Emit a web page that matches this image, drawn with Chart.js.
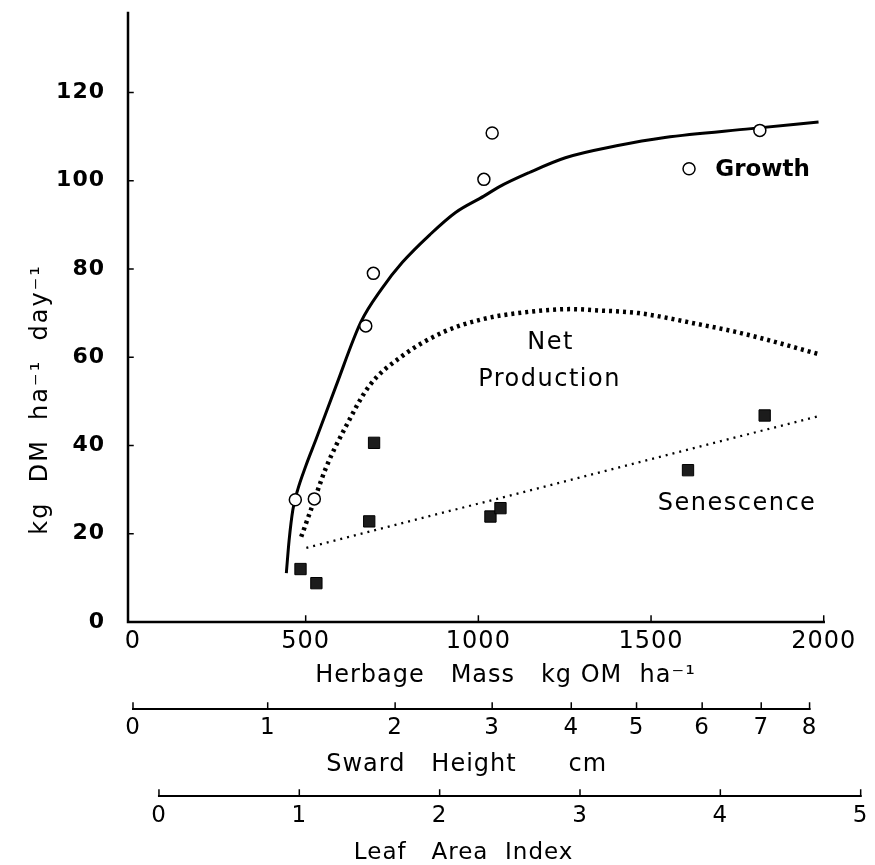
<!DOCTYPE html>
<html>
<head>
<meta charset="utf-8">
<script src="https://cdn.jsdelivr.net/npm/chart.js@4.4.1/dist/chart.umd.min.js"></script>
<style>
  html, body { margin: 0; padding: 0; background: #fff; }
  #wrap { width: 875px; height: 865px; }
</style>
</head>
<body>
<div id="wrap"><canvas id="c" width="875" height="865"></canvas></div>
<script>
// Fitted growth curve: herbage mass (kg OM/ha) vs rate (kg DM/ha/day)
const growthCurveMass = [444, 452, 463, 477, 500, 530, 588, 660, 720, 780, 860, 934, 1016, 1060, 1146, 1252, 1400, 1540, 1790, 1985];
const growthCurveRate = [11.1, 18.5, 25.5, 30.0, 35.3, 41.4, 53.5, 68.0, 75.5, 81.5, 87.8, 92.8, 96.5, 98.6, 101.8, 105.2, 107.9, 109.8, 111.8, 113.3];

// Net production curve
const netCurveMass = [487, 520, 559, 617, 684, 780, 896, 1011, 1136, 1271, 1348, 1463, 1636, 1742, 1829, 1985];
const netCurveRate = [19.3, 26.5, 35.0, 44.4, 53.5, 60.3, 65.6, 68.6, 70.2, 70.9, 70.6, 70.0, 67.5, 65.8, 64.1, 60.7];

// Senescence regression line
const senescenceLineMass = [502, 1992];
const senescenceLineRate = [16.8, 46.8];

// Observations
const growthObsMass = [470, 525, 674, 696, 1016, 1040, 1610, 1815];
const growthObsRate = [27.7, 27.9, 67.1, 79.0, 100.3, 110.8, 102.7, 111.4];
const senescenceObsMass = [485, 531, 684, 698, 1035, 1064, 1607, 1829];
const senescenceObsRate = [12.0, 8.8, 22.8, 40.6, 23.9, 25.8, 34.4, 46.8];

// Axis ticks
const massTicks = [0, 500, 1000, 1500, 2000];
const rateTicks = [0, 20, 40, 60, 80, 100, 120];
const swardHeightTicks = [0, 1, 2, 3, 4, 5, 6, 7, 8];
const swardHeightMass = [0, 390, 759, 1040, 1269, 1458, 1648, 1819, 1959];
const laiTicks = [0, 1, 2, 3, 4, 5];

const pts = (xs, ys) => xs.map((x, i) => ({ x: x, y: ys[i] }));

Chart.defaults.font.family = "'DejaVu Sans', sans-serif";
Chart.defaults.color = '#000';

// Curve labels, placed in data coordinates
const curveLabels = [
  { text: 'Growth', x: 1686, y: 102.5, align: 'left', font: "bold 23px 'DejaVu Sans'" },
  { text: 'Net', x: 1209, y: 63.3, align: 'center', font: "24px 'DejaVu Sans'" },
  { text: 'Production', x: 1206, y: 54.8, align: 'center', font: "24px 'DejaVu Sans'" },
  { text: 'Senescence', x: 1749, y: 26.8, align: 'center', font: "24px 'DejaVu Sans'" }
];

const spacing = {
  id: 'spacing',
  beforeDraw(chart) { chart.ctx.letterSpacing = '1px'; }
};

// Axis lines with inward tick marks, and the stacked secondary axes
const axisLines = {
  id: 'axisLines',
  beforeDatasetsDraw(chart) {
    const { ctx, scales } = chart;
    const x = scales.x, y = scales.y, sw = scales.sward, lai = scales.lai;
    ctx.save();
    ctx.strokeStyle = '#000';
    ctx.lineCap = 'square';
    const y0 = y.getPixelForValue(0);
    const yTop = y.getPixelForValue(y.max);
    const xl = x.getPixelForValue(0) - 5;
    const xEnd = x.getPixelForValue(massTicks[massTicks.length - 1]);

    ctx.lineWidth = 2.5;
    ctx.beginPath();
    ctx.moveTo(xl, yTop);
    ctx.lineTo(xl, y0);
    ctx.lineTo(xEnd, y0);
    ctx.stroke();

    ctx.lineWidth = 1.5;
    ctx.beginPath();
    rateTicks.slice(1).forEach(v => {
      const p = y.getPixelForValue(v);
      ctx.moveTo(xl, p); ctx.lineTo(xl + 5, p);
    });
    massTicks.slice(1).forEach(v => {
      const p = x.getPixelForValue(v);
      ctx.moveTo(p, y0); ctx.lineTo(p, y0 - 6);
    });
    ctx.stroke();

    // sward height axis
    const sy = sw.top + 1;
    ctx.lineWidth = 2;
    ctx.beginPath();
    ctx.moveTo(sw.getPixelForValue(swardHeightMass[0]), sy);
    ctx.lineTo(sw.getPixelForValue(swardHeightMass[swardHeightMass.length - 1]), sy);
    ctx.stroke();
    ctx.lineWidth = 1.5;
    ctx.beginPath();
    swardHeightMass.forEach(v => {
      const p = sw.getPixelForValue(v);
      ctx.moveTo(p, sy); ctx.lineTo(p, sy - 6);
    });
    ctx.stroke();

    // leaf area index axis
    const ly = lai.top + 1;
    ctx.lineWidth = 2;
    ctx.beginPath();
    ctx.moveTo(lai.getPixelForValue(laiTicks[0]), ly);
    ctx.lineTo(lai.getPixelForValue(laiTicks[laiTicks.length - 1]), ly);
    ctx.stroke();
    ctx.lineWidth = 1.5;
    ctx.beginPath();
    laiTicks.forEach(v => {
      const p = lai.getPixelForValue(v);
      ctx.moveTo(p, ly); ctx.lineTo(p, ly - 6);
    });
    ctx.stroke();

    // y axis title
    ctx.fillStyle = '#000';
    ctx.font = "24px 'DejaVu Sans'";
    ctx.letterSpacing = '2px';
    ctx.textAlign = 'left';
    ctx.textBaseline = 'alphabetic';
    ctx.translate(47, y.getPixelForValue(20) + 1);
    ctx.rotate(-Math.PI / 2);
    ctx.fillText('kg  DM  ha\u207B\u00B9  day\u207B\u00B9', 0, 0);
    ctx.restore();
  },
  afterDatasetsDraw(chart) {
    const { ctx, scales } = chart;
    ctx.save();
    ctx.fillStyle = '#000';
    ctx.textBaseline = 'middle';
    curveLabels.forEach(l => {
      ctx.font = l.font;
      ctx.letterSpacing = l.align === 'left' ? '0px' : '1.5px';
      ctx.textAlign = l.align;
      ctx.fillText(l.text, scales.x.getPixelForValue(l.x), scales.y.getPixelForValue(l.y));
    });
    ctx.restore();
  }
};

const noGrid = { display: false, drawTicks: false };
const noBorder = { display: false };
const plain = v => String(v);

new Chart(document.getElementById('c'), {
  type: 'scatter',
  data: {
    datasets: [
      {
        label: 'Growth (observed)',
        data: pts(growthObsMass, growthObsRate),
        pointStyle: 'circle',
        pointRadius: 6,
        pointBorderWidth: 1.5,
        pointBackgroundColor: '#fff',
        pointBorderColor: '#000',
        order: 0
      },
      {
        label: 'Senescence (observed)',
        data: pts(senescenceObsMass, senescenceObsRate),
        pointStyle: 'rect',
        pointRadius: 8,
        pointBorderWidth: 1,
        pointBackgroundColor: '#1c1c1c',
        pointBorderColor: '#000',
        order: 0
      },
      {
        label: 'Growth',
        data: pts(growthCurveMass, growthCurveRate),
        showLine: true,
        borderColor: '#000',
        borderWidth: 3,
        pointRadius: 0,
        cubicInterpolationMode: 'monotone',
        order: 1
      },
      {
        label: 'Net Production',
        data: pts(netCurveMass, netCurveRate),
        showLine: true,
        borderColor: '#000',
        borderWidth: 4.5,
        borderDash: [3, 4],
        pointRadius: 0,
        cubicInterpolationMode: 'monotone',
        order: 1
      },
      {
        label: 'Senescence',
        data: pts(senescenceLineMass, senescenceLineRate),
        showLine: true,
        borderColor: '#000',
        borderWidth: 2.3,
        borderDash: [2, 5],
        pointRadius: 0,
        order: 1
      }
    ]
  },
  options: {
    responsive: false,
    animation: false,
    events: [],
    layout: { padding: { left: 0, right: 12, top: 13, bottom: 0 } },
    plugins: { legend: { display: false }, tooltip: { enabled: false } },
    scales: {
      x: {
        type: 'linear', axis: 'x', position: 'bottom', weight: 0,
        min: 0, max: 2107,
        grid: noGrid, border: noBorder,
        afterBuildTicks: s => { s.ticks = massTicks.map(v => ({ value: v })); },
        ticks: { padding: 5, font: { size: 24 }, maxRotation: 0, autoSkip: false, callback: plain },
        title: { display: true, text: '  Herbage   Mass   kg OM  ha\u207B\u00B9', font: { size: 24 }, padding: { top: 0, bottom: 18 } },
        afterFit: s => { s.height = 86; }
      },
      sward: {
        type: 'linear', axis: 'x', position: 'bottom', weight: 1,
        min: 0, max: 2107,
        grid: noGrid, border: noBorder,
        afterBuildTicks: s => { s.ticks = swardHeightMass.map(v => ({ value: v })); },
        ticks: { padding: 6, font: { size: 23 }, maxRotation: 0, autoSkip: false,
                 callback: (v, i) => String(swardHeightTicks[i]) },
        title: { display: true, text: 'Sward   Height      cm       ', font: { size: 24 }, padding: { top: 0, bottom: 16 } },
        afterFit: s => { s.height = 87; }
      },
      lai: {
        type: 'linear', axis: 'x', position: 'bottom', weight: 2,
        min: -0.185, max: 5,
        grid: noGrid, border: noBorder,
        afterBuildTicks: s => { s.ticks = laiTicks.map(v => ({ value: v })); },
        ticks: { padding: 7, font: { size: 23 }, maxRotation: 0, autoSkip: false, callback: plain },
        title: { display: true, text: 'Leaf   Area  Index        ', font: { size: 23 }, padding: { top: 0, bottom: -2 } },
        afterFit: s => { s.height = 70; }
      },
      y: {
        type: 'linear', position: 'left',
        min: 0, max: 138,
        grid: noGrid, border: noBorder,
        afterBuildTicks: s => { s.ticks = rateTicks.map(v => ({ value: v })); },
        ticks: { padding: 28, font: { size: 22, weight: 'bold' }, callback: plain },
        afterFit: s => { s.width = 133; s.paddingTop = 0; s.paddingBottom = 0; }
      }
    }
  },
  plugins: [spacing, axisLines]
});
</script>
</body>
</html>
